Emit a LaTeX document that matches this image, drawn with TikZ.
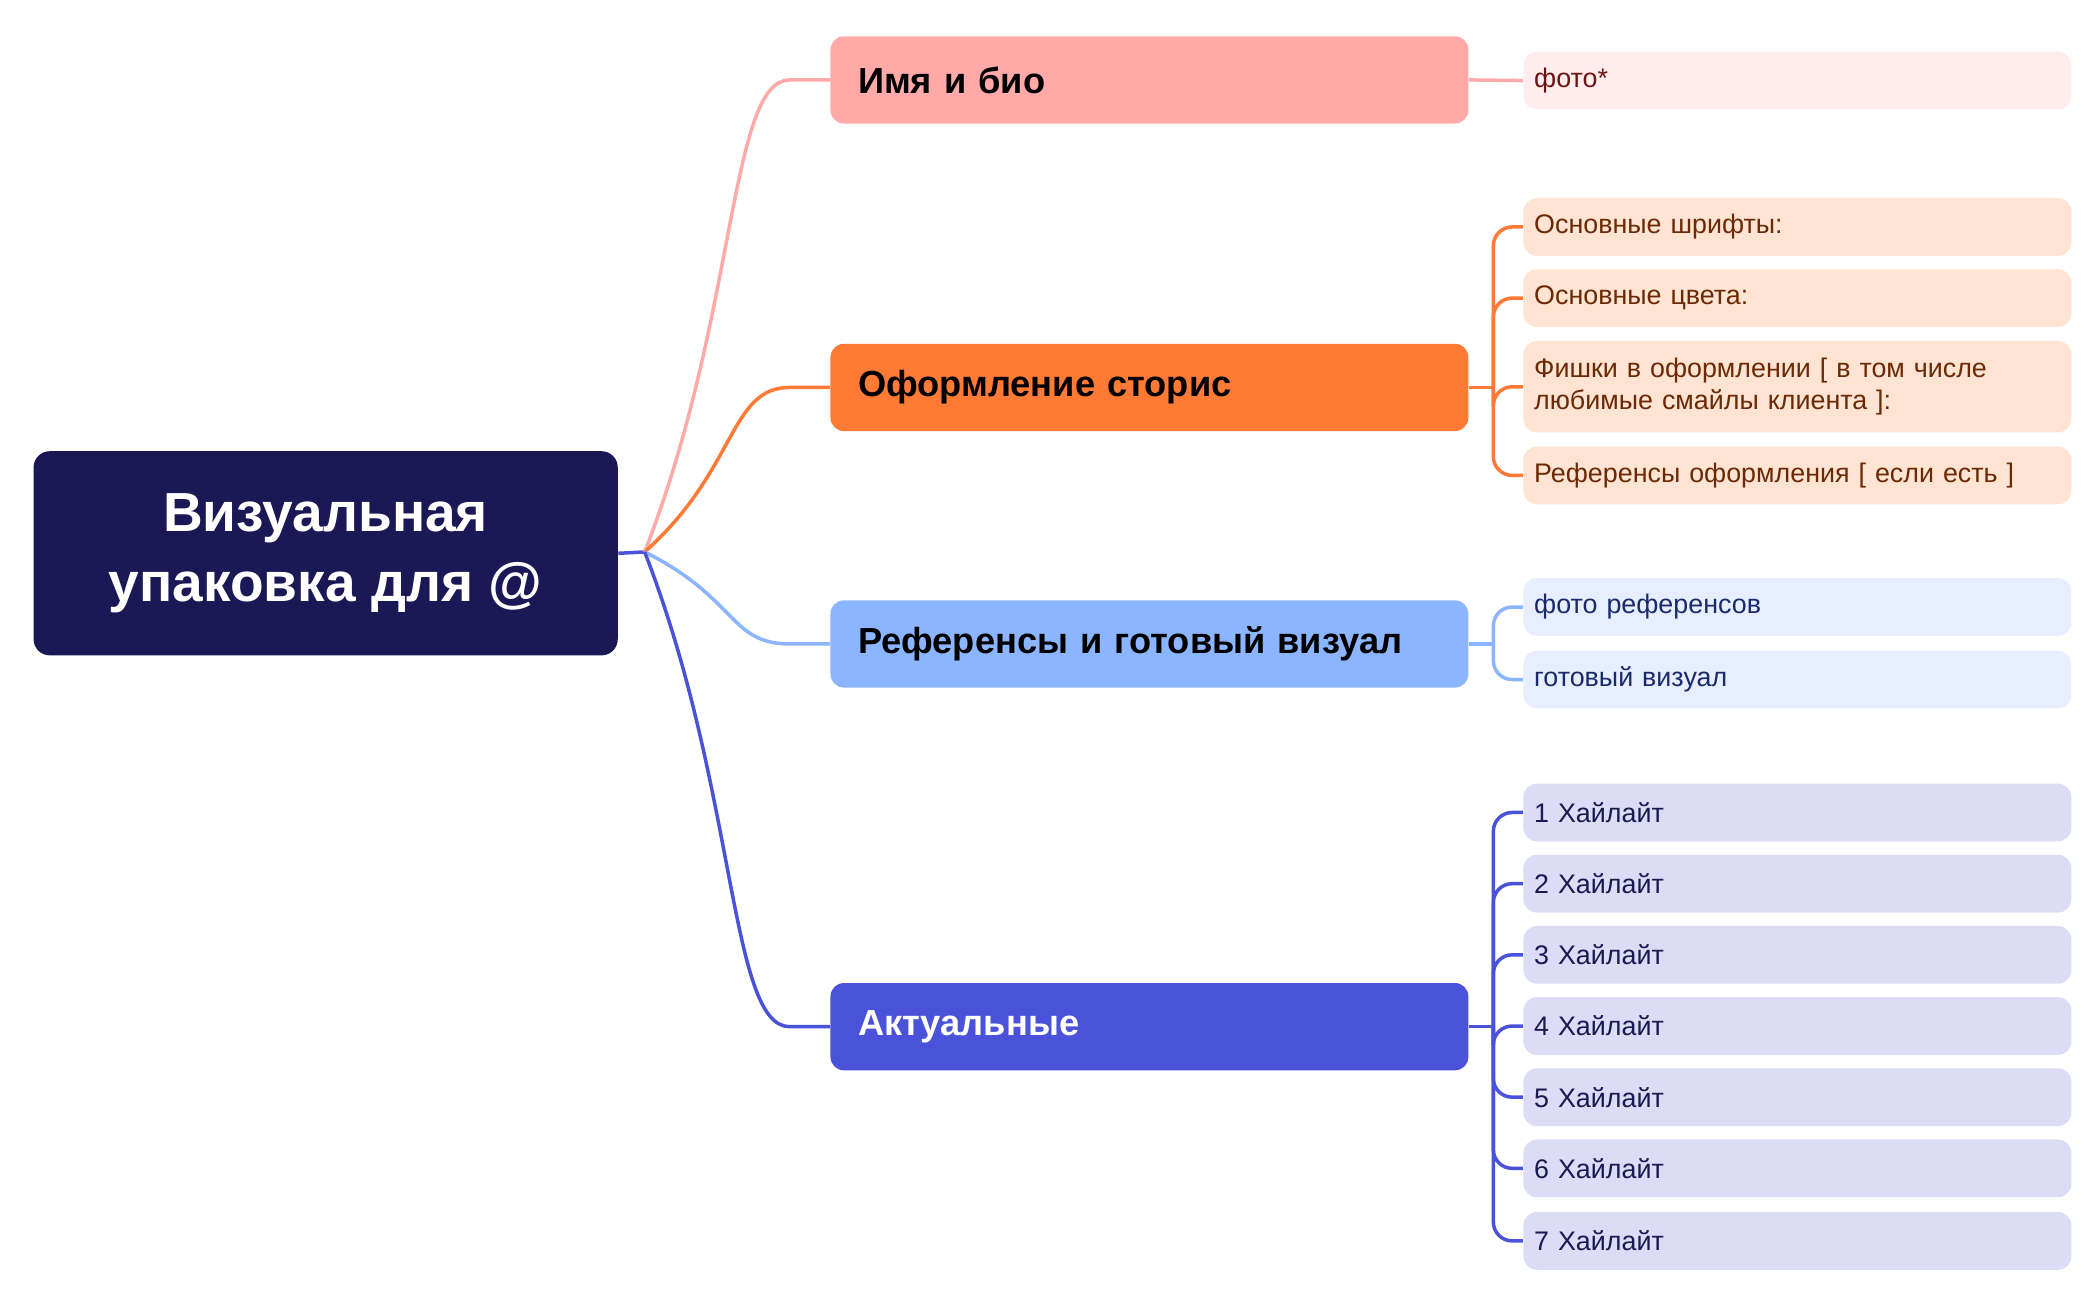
\documentclass[tikz,border=0pt]{standalone}
\usepackage{fontspec}
\usetikzlibrary{calc}
\setmainfont{Liberation Sans}
\definecolor{rootc}{HTML}{1A1855}
\definecolor{c1}{HTML}{FFA9A9}\definecolor{l1}{HTML}{FFEDED}\definecolor{t1}{HTML}{6B1414}
\definecolor{c2}{HTML}{FF7B35}\definecolor{l2}{HTML}{FFE4D3}\definecolor{t2}{HTML}{6B2A05}
\definecolor{c3}{HTML}{8BB5FF}\definecolor{l3}{HTML}{E6EEFF}\definecolor{t3}{HTML}{1A2A6B}
\definecolor{c4}{HTML}{4A52D9}\definecolor{l4}{HTML}{DCDCF7}\definecolor{t4}{HTML}{1A1A50}
\begin{document}
\begin{tikzpicture}[x=0.5pt,y=-0.5pt,
 br/.style={rounded corners=5pt,minimum width=237.5pt,minimum height=32.5pt,anchor=west,inner sep=0pt,text width=217pt,align=left,font=\fontsize{13.5}{16}\selectfont\bfseries},
 lf/.style={rounded corners=5pt,minimum width=204pt,minimum height=21.5pt,anchor=west,inner sep=0pt,text width=196pt,align=left,font=\fontsize{10}{12}\selectfont},
 cn/.style={line width=1.3pt}]
\fill[white] (0,0) rectangle (1560,968);
\node[fill=rootc,rounded corners=6pt,minimum width=217.5pt,minimum height=76pt,text=white,align=center,font=\fontsize{20.5}{26}\selectfont\bfseries] (root) at (242.5,412) {Визуальная\\упаковка для @};
\node[br,fill=c1] (b1) at (618,59.5) {Имя и био};
\node[br,fill=c2] (b2) at (618,288.5) {Оформление сторис};
\node[br,fill=c3] (b3) at (618,479.5) {Референсы и готовый визуал};
\node[br,fill=c4,text=white] (b4) at (618,764.5) {Актуальные};
\coordinate (hub) at (480,411);
\draw[cn,c4] (root.east) -- (hub);
\foreach \b/\c in {b1/c1,b2/c2,b3/c3,b4/c4}{
 \draw[cn,\c] (hub) .. controls ($(hub)!0.5!(\b.west)$) and ($(\b.west)+(-75,0)$) .. ($(\b.west)+(-30,0)$) -- (\b.west);}
% leaves
\node[lf,fill=l1,text=t1] (a1) at (1134,60) {фото*};
\draw[cn,c1] (b1.east) -- (a1.west);
\node[lf,fill=l2,text=t2] (s1) at (1134,169) {Основные шрифты:};
\node[lf,fill=l2,text=t2] (s2) at (1134,222) {Основные цвета:};
\node[lf,fill=l2,text=t2,minimum height=34pt] (s3) at (1134,288) {Фишки в оформлении [ в том числе любимые смайлы клиента ]:};
\node[lf,fill=l2,text=t2] (s4) at (1134,354) {Референсы оформления [ если есть ]};
\coordinate (j2) at (1112,288.5);
\draw[cn,c2] (b2.east) -- (j2);
\foreach \n in {s1,s2,s3,s4}{\draw[cn,c2,rounded corners=7pt] (j2) |- (\n.west);}
\node[lf,fill=l3,text=t3] (r1) at (1134,452) {фото референсов};
\node[lf,fill=l3,text=t3] (r2) at (1134,506) {готовый визуал};
\coordinate (j3) at (1112,479.5);
\draw[cn,c3] (b3.east) -- (j3);
\foreach \n in {r1,r2}{\draw[cn,c3,rounded corners=7pt] (j3) |- (\n.west);}
\foreach \i/\y in {1/605,2/658,3/711,4/764,5/817,6/870,7/924}{
 \node[lf,fill=l4,text=t4] (h\i) at (1134,\y) {\i{} Хайлайт};}
\coordinate (j4) at (1112,764.5);
\draw[cn,c4] (b4.east) -- (j4);
\foreach \i in {1,...,7}{\draw[cn,c4,rounded corners=7pt] (j4) |- (h\i.west);}
\end{tikzpicture}
\end{document}
